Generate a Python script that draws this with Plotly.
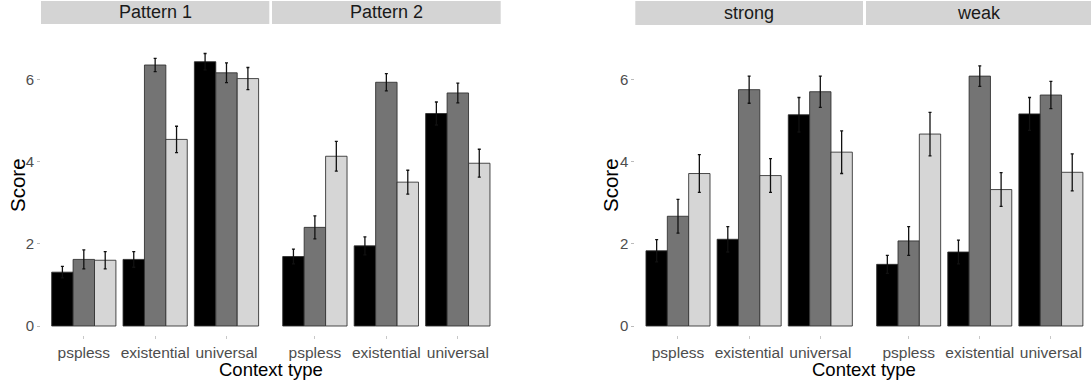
import plotly.graph_objects as go

# ---------------- data ----------------
contexts = ["pspless", "existential", "universal"]
panel_titles = ["Pattern 1", "Pattern 2", "strong", "weak"]
y_ticks = [0, 2, 4, 6]

pattern1_black = [1.31, 1.62, 6.43]
pattern1_black_err = [0.14, 0.19, 0.20]
pattern1_gray = [1.62, 6.35, 6.16]
pattern1_gray_err = [0.23, 0.16, 0.24]
pattern1_light = [1.60, 4.54, 6.02]
pattern1_light_err = [0.21, 0.32, 0.27]

pattern2_black = [1.69, 1.95, 5.17]
pattern2_black_err = [0.18, 0.22, 0.28]
pattern2_gray = [2.40, 5.93, 5.67]
pattern2_gray_err = [0.28, 0.21, 0.24]
pattern2_light = [4.13, 3.50, 3.96]
pattern2_light_err = [0.36, 0.29, 0.34]

strong_black = [1.83, 2.11, 5.14]
strong_black_err = [0.27, 0.31, 0.42]
strong_gray = [2.67, 5.75, 5.70]
strong_gray_err = [0.41, 0.33, 0.38]
strong_light = [3.71, 3.66, 4.23]
strong_light_err = [0.46, 0.41, 0.52]

weak_black = [1.50, 1.80, 5.16]
weak_black_err = [0.22, 0.29, 0.40]
weak_gray = [2.07, 6.08, 5.62]
weak_gray_err = [0.35, 0.25, 0.33]
weak_light = [4.67, 3.32, 3.74]
weak_light_err = [0.53, 0.41, 0.45]

# ---------------- styling ----------------
W, H = 1091, 381
FONT = "Liberation Sans, Arial, sans-serif"
fills = ["#000000", "#747474", "#d6d6d6"]

panels = [
    (pattern1_black, pattern1_black_err, pattern1_gray, pattern1_gray_err, pattern1_light, pattern1_light_err),
    (pattern2_black, pattern2_black_err, pattern2_gray, pattern2_gray_err, pattern2_light, pattern2_light_err),
    (strong_black, strong_black_err, strong_gray, strong_gray_err, strong_light, strong_light_err),
    (weak_black, weak_black_err, weak_gray, weak_gray_err, weak_light, weak_light_err),
]

# panel pixel extents (left, right)
px_x = [(41, 269.3), (272, 500.7), (635.3, 863), (866, 1091)]
x_ranges = [[-0.6, 2.6], [-0.6, 2.6], [-0.6, 2.6], [-0.6, 2.564]]
y_bottom_px, y_top_px = 339, 26
x_axis_px = 335
zero_px, unit_px = 326, 41.1
y_range = [-(y_bottom_px - zero_px) / unit_px, (zero_px - y_top_px) / unit_px]


def fx(p):
    return p / W


def fy(p):
    return 1 - p / H


fig = go.Figure()
layout = dict(
    width=W, height=H,
    margin=dict(l=0, r=0, t=0, b=0),
    paper_bgcolor="white", plot_bgcolor="white",
    barmode="group", bargap=0.1, bargroupgap=0,
    showlegend=False,
    font=dict(family=FONT, color="#1a1a1a"),
)

shapes = []
annotations = []

for i, data in enumerate(panels):
    ax = "" if i == 0 else str(i + 1)
    for k in range(3):
        vals, errs = data[2 * k], data[2 * k + 1]
        fig.add_trace(go.Bar(
            x=contexts, y=vals,
            xaxis="x" + ax, yaxis="y" + ax,
            marker=dict(color=fills[k], line=dict(color="rgba(45,45,45,0.85)", width=1)),
            error_y=dict(type="data", array=errs, color="#111111", thickness=1.3, width=1.5),
            offsetgroup=str(k),
            hoverinfo="skip",
        ))
    l, r = px_x[i]
    layout["xaxis" + ax] = dict(
        domain=[fx(l), fx(r)], anchor="free", position=fy(x_axis_px),
        type="category", categoryorder="array", categoryarray=contexts,
        range=x_ranges[i],
        showgrid=False, zeroline=False, showline=False,
        ticks="outside", ticklen=3, tickwidth=1, tickcolor="#c8c8c8",
        tickfont=dict(family=FONT, size=15.5, color="#4d4d4d"),
        fixedrange=True,
    )
    show_y_labels = i in (0, 2)
    layout["yaxis" + ax] = dict(
        domain=[fy(y_bottom_px), fy(y_top_px)], anchor="x" + ax,
        range=y_range, tickvals=y_ticks,
        showticklabels=show_y_labels,
        ticks="outside" if show_y_labels else "", ticklen=3, tickwidth=1, tickcolor="#bbbbbb",
        showgrid=False, zeroline=False, showline=False,
        tickfont=dict(family=FONT, size=15, color="#4d4d4d"),
        fixedrange=True,
    )
    # strip
    strip_bottom = 24 if i < 2 else 25
    shapes.append(dict(type="rect", xref="paper", yref="paper",
                       x0=fx(l), x1=fx(r), y0=fy(strip_bottom), y1=fy(1),
                       fillcolor="#d4d4d4", line=dict(width=0), layer="below"))
    annotations.append(dict(text=panel_titles[i], xref="paper", yref="paper",
                            x=fx((l + r) / 2), y=fy((1 + strip_bottom) / 2),
                            xanchor="center", yanchor="middle", showarrow=False,
                            font=dict(family=FONT, size=18, color="#1a1a1a")))

# axis titles
for cx in (270.9, 864.5):
    annotations.append(dict(text="Context type", xref="paper", yref="paper",
                            x=fx(cx), y=fy(369), xanchor="center", yanchor="middle",
                            showarrow=False, font=dict(family=FONT, size=18.5, color="#000000")))
for sx in (18, 611):
    annotations.append(dict(text="Score", xref="paper", yref="paper",
                            x=fx(sx), y=fy(185), xanchor="center", yanchor="middle",
                            textangle=-90, showarrow=False,
                            font=dict(family=FONT, size=20.5, color="#000000")))

layout["shapes"] = shapes
layout["annotations"] = annotations
fig.update_layout(**layout)
fig.write_html("out.html", config={"displayModeBar": False},
               post_script="document.body.style.margin='0px';document.body.style.overflow='hidden';")
